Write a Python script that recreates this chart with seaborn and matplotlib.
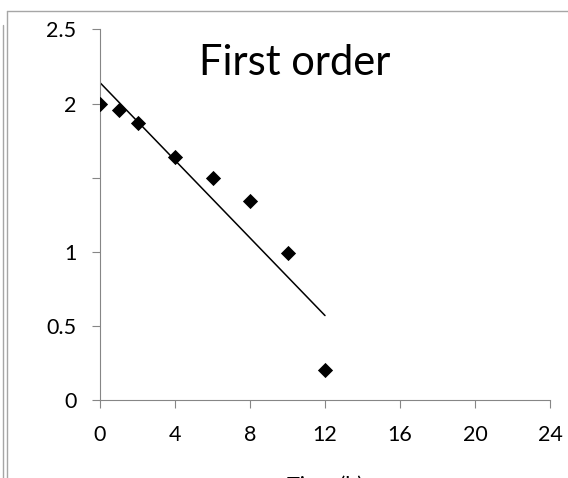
import matplotlib
matplotlib.use("Agg")
import matplotlib.pyplot as plt
from matplotlib.lines import Line2D
import seaborn as sns
import pandas as pd

# Observations: time (h) and concentration-derived value
time_h = [0, 1, 2, 4, 6, 8, 10, 12]
value = [2.00, 1.96, 1.87, 1.64, 1.50, 1.34, 0.99, 0.20]

x_ticks = [0, 4, 8, 12, 16, 20, 24]
y_ticks = [0, 0.5, 1, 1.5, 2, 2.5]
y_tick_labels = ["0", "0.5", "1", "", "2", "2.5"]

title_text = "First order"
x_label = "Time (h)"

sns.set_theme(style="white")
plt.rcParams["font.family"] = ["Lato", "DejaVu Sans"]

grey = "#868686"
frame_grey = "#a6a6a6"

df = pd.DataFrame({"time": time_h, "value": value})

fig = plt.figure(figsize=(5.68, 4.78), dpi=100)
ax = fig.add_axes([100 / 568, 78 / 478, 450 / 568, 370.5 / 478])

sns.regplot(
    data=df, x="time", y="value", ax=ax, ci=None, truncate=True,
    marker="D",
    scatter_kws={"s": 60, "color": "black", "alpha": 1.0,
                 "linewidths": 0, "zorder": 3},
    line_kws={"color": "black", "linewidth": 1.1},
)

ax.set_xlim(0, 24)
ax.set_ylim(0, 2.5)
ax.set_xticks(x_ticks)
ax.set_xticklabels([str(t) for t in x_ticks])
ax.set_yticks(y_ticks)
ax.set_yticklabels(y_tick_labels)
ax.set_ylabel("")
ax.set_xlabel(x_label, fontsize=15.5, labelpad=22, color="black")

for side in ("top", "right"):
    ax.spines[side].set_visible(False)
for side in ("left", "bottom"):
    ax.spines[side].set_color(grey)
    ax.spines[side].set_linewidth(0.8)

ax.tick_params(axis="both", which="major", direction="out", length=6,
               width=0.8, color=grey, labelsize=15.5, labelcolor="black",
               left=True, bottom=True)
ax.tick_params(axis="x", pad=12)
ax.tick_params(axis="y", pad=11)

ax.text(0.433, 0.877, title_text, transform=ax.transAxes, ha="center",
        va="baseline", fontsize=30, color="black")

# Surrounding panel frame lines
W, H = 568.0, 478.0
fig.add_artist(Line2D([2.7 / W, 2.7 / W], [0, 1 - 25 / H], color=frame_grey,
                      linewidth=1.0, transform=fig.transFigure))
fig.add_artist(Line2D([7.3 / W, 7.3 / W], [0, 1 - 10.7 / H], color=frame_grey,
                      linewidth=1.0, transform=fig.transFigure))
fig.add_artist(Line2D([7.3 / W, 1], [1 - 10.7 / H, 1 - 10.7 / H], color=frame_grey,
                      linewidth=1.0, transform=fig.transFigure))

fig.savefig("out.png", dpi=100, facecolor="white")
